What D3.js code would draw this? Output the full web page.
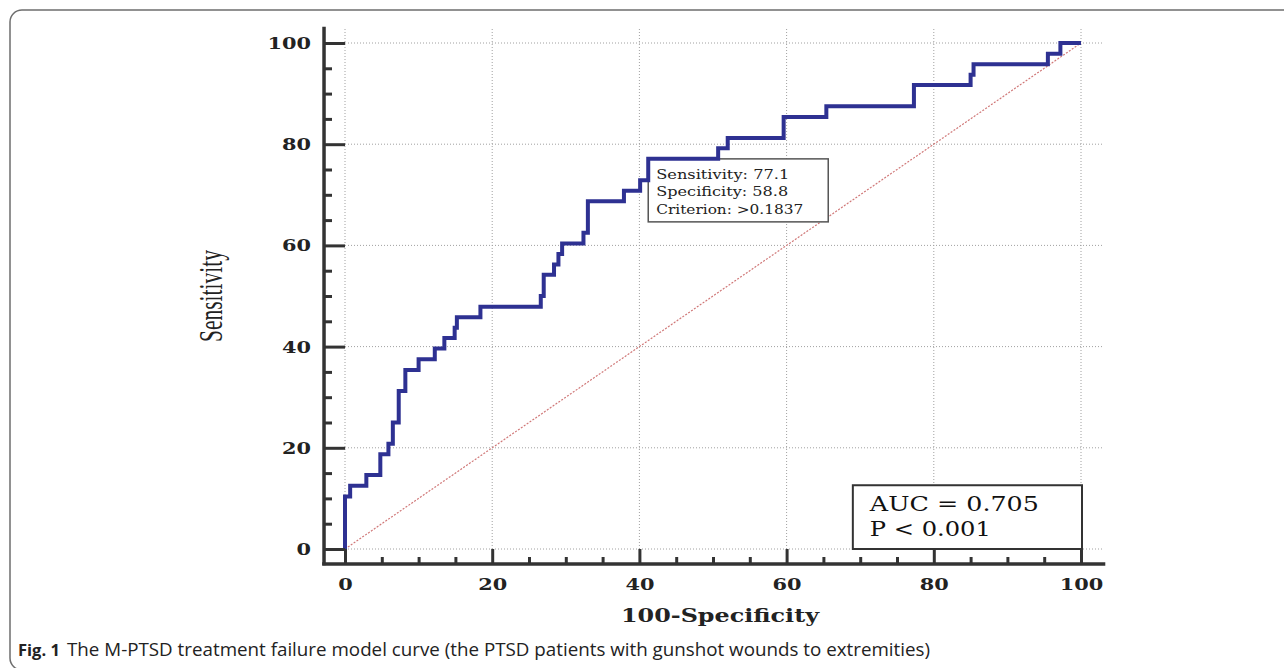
<!DOCTYPE html>
<html>
<head>
<meta charset="utf-8">
<script src="https://cdn.jsdelivr.net/npm/d3@7.9.0/dist/d3.min.js"></script>
<style>
  body { margin: 0; background: #fff; }
  svg { display: block; }
</style>
</head>
<body>
<svg width="1284" height="668"></svg>
<script>
// ROC curve corners (100-Specificity, Sensitivity)
const fpr  = [0, 0, 0.7, 2.9, 4.8, 5.9, 6.5, 7.3, 8.2, 10.0, 12.2, 13.5, 14.9, 15.2, 18.4,
              26.6, 27.0, 28.4, 29.0, 29.5, 32.4, 33.0, 37.9, 40.1, 41.2, 50.7, 52.0, 59.6,
              65.4, 77.3, 85.0, 85.4, 95.5, 97.2, 100];
const sens = [0, 10.4, 12.5, 14.6, 18.75, 20.8, 25.0, 31.25, 35.4, 37.5, 39.6, 41.7, 43.75, 45.8, 47.9,
              50.0, 54.2, 56.25, 58.3, 60.4, 62.5, 68.75, 70.8, 72.9, 77.1, 79.2, 81.25, 85.4,
              87.5, 91.7, 93.75, 95.8, 97.9, 100, 100];

const majorTicks = [0, 20, 40, 60, 80, 100];
const minorTicks = [5, 10, 15, 25, 30, 35, 45, 50, 55, 65, 70, 75, 85, 90, 95];

const cutoff = [41.2, 77.1];   // [100-Specificity, Sensitivity]
const tipLines = ['Sensitivity: 77.1', 'Specificity: 58.8', 'Criterion: >0.1837'];
const statLines = ['AUC = 0.705', 'P < 0.001'];

const svg = d3.select('svg');

// page frame
svg.append('rect')
  .attr('x', 10).attr('y', 10).attr('width', 1300).attr('height', 660)
  .attr('rx', 12)
  .attr('fill', 'none').attr('stroke', '#6e6e6e').attr('stroke-width', 1.5);

const x = d3.scaleLinear().domain([0, 100]).range([345, 1081]);
const y = d3.scaleLinear().domain([0, 100]).range([549, 43]);

const serif = "'DejaVu Serif', 'Liberation Serif', serif";

// dotted grid
const grid = svg.append('g')
  .attr('stroke', '#a0a0a0').attr('stroke-width', 1).attr('stroke-dasharray', '1,2');
grid.selectAll('.vg').data(majorTicks).join('line')
  .attr('x1', d => x(d)).attr('x2', d => x(d))
  .attr('y1', y(0)).attr('y2', y(103));
grid.selectAll('.hg').data(majorTicks).join('line')
  .attr('y1', d => y(d)).attr('y2', d => y(d))
  .attr('x1', x(0)).attr('x2', x(103));

// reference diagonal
svg.append('line')
  .attr('x1', x(0)).attr('y1', y(0)).attr('x2', x(100)).attr('y2', y(100))
  .attr('stroke', '#d07878').attr('stroke-width', 1.2).attr('stroke-dasharray', '2,1.5');

// cutoff tooltip box
const tip = svg.append('g')
  .attr('transform', `translate(${x(cutoff[0])},${y(cutoff[1])})`);
tip.append('rect')
  .attr('width', 180).attr('height', 63)
  .attr('fill', '#fff').attr('stroke', '#555').attr('stroke-width', 1.5);
tip.selectAll('text').data(tipLines).join('text')
  .attr('x', 8).attr('y', (d, i) => 20 + i * 17.5)
  .attr('font-family', serif).attr('font-size', 13.5).attr('fill', '#222')
  .attr('textLength', (d, i) => [133, 132, 147][i])
  .attr('lengthAdjust', 'spacingAndGlyphs')
  .text(d => d);

// AUC box
const stat = svg.append('g')
  .attr('transform', `translate(${x(69)},${y(12.6)})`);
stat.append('rect')
  .attr('width', x(100) + 1 - x(69)).attr('height', y(0) - y(12.6))
  .attr('fill', '#fff').attr('stroke', '#333').attr('stroke-width', 2);
stat.selectAll('text').data(statLines).join('text')
  .attr('x', 17).attr('y', (d, i) => 26 + i * 25)
  .attr('font-family', serif).attr('font-size', 19.5).attr('fill', '#111')
  .attr('textLength', (d, i) => [169, 121][i])
  .attr('lengthAdjust', 'spacingAndGlyphs')
  .text(d => d);

// ROC curve
const pts = fpr.map((d, i) => [d, sens[i]]);
const line = d3.line().x(d => x(d[0])).y(d => y(d[1])).curve(d3.curveStepAfter);
svg.append('path')
  .attr('d', line(pts))
  .attr('fill', 'none').attr('stroke', '#2e3192').attr('stroke-width', 4)
  .attr('stroke-linejoin', 'miter');

// axes
const axisX = x(-2.85), axisY = y(-2.96);
const styleAxis = g => {
  g.select('.domain').remove();
  g.selectAll('.tick line').attr('stroke', '#333').attr('stroke-width', 3);
};

const yAxis = svg.append('g').attr('transform', `translate(${axisX},0)`)
  .call(d3.axisLeft(y).tickValues(majorTicks).tickSize(-21).tickPadding(13))
  .call(styleAxis);
svg.append('g').attr('transform', `translate(${axisX},0)`)
  .call(d3.axisLeft(y).tickValues(minorTicks).tickSize(-8).tickFormat(''))
  .call(styleAxis);

const xAxis = svg.append('g').attr('transform', `translate(0,${axisY})`)
  .call(d3.axisBottom(x).tickValues(majorTicks).tickSize(-15).tickPadding(14))
  .call(styleAxis);
svg.append('g').attr('transform', `translate(0,${axisY})`)
  .call(d3.axisBottom(x).tickValues(minorTicks).tickSize(-7).tickFormat(''))
  .call(styleAxis);

[yAxis, xAxis].forEach(g => {
  g.selectAll('.tick text')
    .attr('font-family', serif).attr('font-size', 17).attr('font-weight', 'bold')
    .attr('fill', '#222')
    .attr('textLength', d => String(d).length * 14.5)
    .attr('lengthAdjust', 'spacingAndGlyphs');
});

svg.append('line')
  .attr('x1', axisX).attr('x2', axisX).attr('y1', y(103.2)).attr('y2', y(-3.2))
  .attr('stroke', '#333').attr('stroke-width', 3.5);
svg.append('line')
  .attr('y1', axisY).attr('y2', axisY).attr('x1', x(-3.1)).attr('x2', x(103.3))
  .attr('stroke', '#333').attr('stroke-width', 3.5);

// axis titles
svg.append('text')
  .attr('x', 720).attr('y', 622)
  .attr('text-anchor', 'middle')
  .attr('font-family', serif).attr('font-size', 19).attr('font-weight', 'bold')
  .attr('fill', '#222')
  .attr('textLength', 198).attr('lengthAdjust', 'spacingAndGlyphs')
  .text('100-Specificity');

svg.append('text')
  .attr('transform', 'translate(222,296) scale(1.55,1) rotate(-90)')
  .attr('text-anchor', 'middle')
  .attr('font-family', "'Liberation Serif', serif").attr('font-size', 21.5)
  .attr('fill', '#222')
  .text('Sensitivity');

// caption
const capFont = "'Open Sans', 'Noto Sans', sans-serif";
svg.append('text')
  .attr('x', 18).attr('y', 656)
  .attr('font-family', capFont).attr('font-size', 16.5).attr('font-weight', 'bold')
  .attr('fill', '#222')
  .text('Fig. 1');
svg.append('text')
  .attr('x', 67).attr('y', 656)
  .attr('font-family', capFont).attr('font-size', 17.5)
  .attr('fill', '#222')
  .attr('textLength', 863).attr('lengthAdjust', 'spacingAndGlyphs')
  .text('The M-PTSD treatment failure model curve (the PTSD patients with gunshot wounds to extremities)');
</script>
</body>
</html>
